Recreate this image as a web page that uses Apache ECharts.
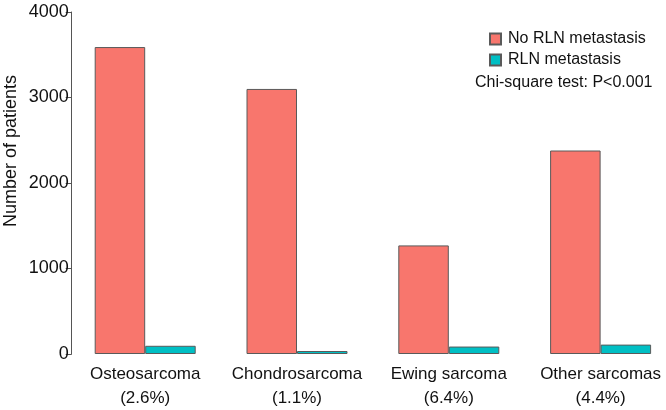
<!DOCTYPE html>
<html>
<head>
<meta charset="utf-8">
<script src="https://cdn.jsdelivr.net/npm/echarts@6/dist/echarts.min.js"></script>
<style>
html,body{margin:0;padding:0;background:#fff;}
#chart{width:666px;height:410px;}
</style>
</head>
<body>
<div id="chart"></div>
<script>
var categories = ['Osteosarcoma', 'Chondrosarcoma', 'Ewing sarcoma', 'Other sarcomas'];
var percentLabels = ['(2.6%)', '(1.1%)', '(6.4%)', '(4.4%)'];
var noRln = [3590, 3100, 1270, 2380];
var rln = [96, 35, 87, 110];
var yTicks = [0, 1000, 2000, 3000, 4000];

var FONT = '"Liberation Sans", Arial, Helvetica, sans-serif';
var xLabels = categories.map(function (c, i) { return c + '\n' + percentLabels[i]; });

var chart = echarts.init(document.getElementById('chart'), null, {renderer: 'canvas'});
chart.setOption({
  animation: false,
  backgroundColor: '#ffffff',
  textStyle: {fontFamily: FONT},
  grid: {left: 69.3, right: -10.5, top: 12, bottom: 56, containLabel: false, outerBoundsMode: 'none'},
  legend: {
    orient: 'vertical',
    left: 489,
    top: 31,
    padding: 0,
    itemWidth: 11,
    itemHeight: 11,
    itemGap: 5,
    icon: 'rect',
    textStyle: {fontFamily: FONT, fontSize: 16, color: '#111111', padding: [0, 0, 0, 2]},
    data: ['No RLN metastasis', 'RLN metastasis']
  },
  title: {
    text: 'Chi-square test: P<0.001',
    left: 475,
    top: 75,
    padding: 0,
    textStyle: {fontFamily: FONT, fontSize: 16, fontWeight: 'normal', color: '#111111'}
  },
  graphic: [{
    type: 'text',
    x: 11,
    y: 151,
    rotation: Math.PI / 2,
    style: {
      text: 'Number of patients',
      font: '18px ' + FONT,
      fill: '#111111',
      textAlign: 'center',
      textVerticalAlign: 'middle'
    }
  }],
  xAxis: {
    type: 'category',
    data: xLabels,
    axisLine: {show: false},
    axisTick: {show: false},
    axisLabel: {
      fontFamily: FONT, fontSize: 17, color: '#111111',
      lineHeight: 23.5, margin: 9, interval: 0
    }
  },
  yAxis: {
    type: 'value',
    min: yTicks[0],
    max: yTicks[yTicks.length - 1],
    interval: 1000,
    offset: -2.4,
    axisLine: {show: true, lineStyle: {color: '#555555', width: 1}},
    axisTick: {show: true, length: 6, lineStyle: {color: '#555555', width: 1}},
    splitLine: {show: false},
    axisLabel: {
      fontFamily: FONT, fontSize: 18, color: '#111111', margin: 3,
      formatter: function (v) { return String(v); }
    }
  },
  series: [{
    name: 'No RLN metastasis',
    type: 'bar',
    data: noRln,
    barWidth: 50.5,
    barGap: '0%',
    itemStyle: {color: '#F8766D', borderColor: '#5a5a5a', borderWidth: 1}
  }, {
    name: 'RLN metastasis',
    type: 'bar',
    data: rln,
    barWidth: 50.5,
    barGap: '0%',
    itemStyle: {color: '#00BFC4', borderColor: '#5a5a5a', borderWidth: 1}
  }]
});
</script>
</body>
</html>
